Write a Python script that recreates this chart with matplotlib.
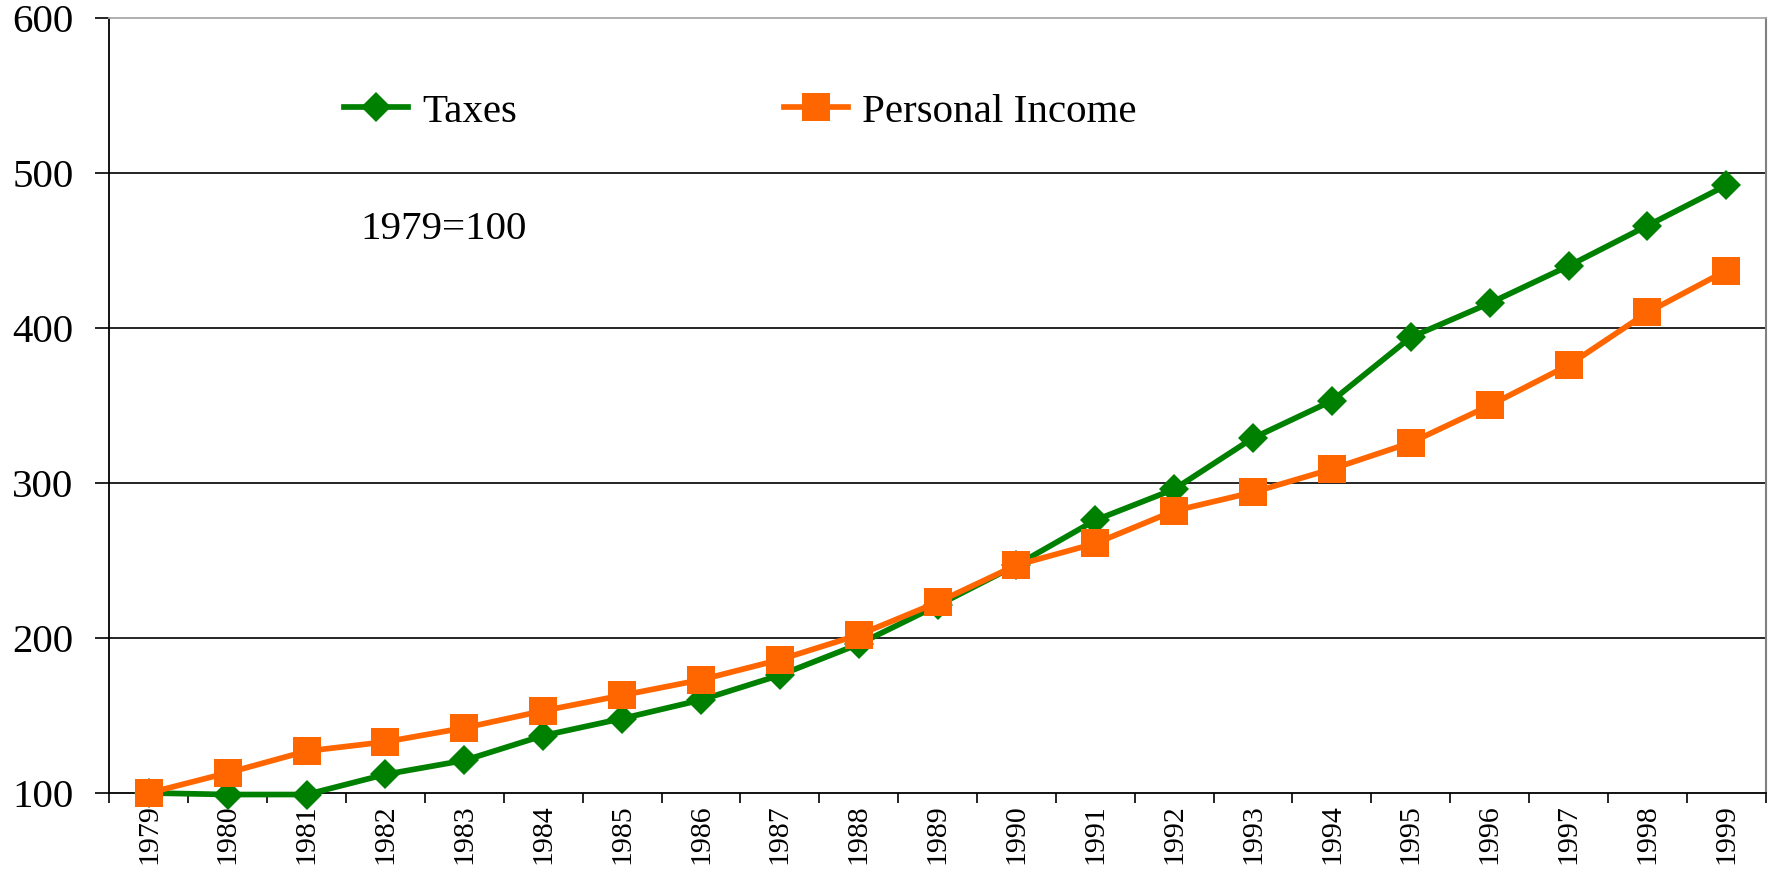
import matplotlib
matplotlib.use("Agg")
import matplotlib.pyplot as plt
import numpy as np

years = [str(y) for y in range(1979, 2000)]
taxes = [100, 99, 99, 112, 121, 137, 148, 160, 176, 196, 221, 247, 276, 296,
         329, 353, 394, 416, 440, 466, 492]
income = [100, 113, 127, 133, 142, 153, 163, 173, 186, 202, 223, 247, 261, 282,
          294, 309, 326, 350, 376, 410, 437]
yticks = [100, 200, 300, 400, 500, 600]

plt.rcParams['font.family'] = ['Liberation Serif', 'DejaVu Serif']

fig = plt.figure(figsize=(17.71, 8.86), dpi=100)
ax = fig.add_axes([0.0618, 0.105, 0.9352, 0.8747])

x = np.arange(len(years)) + 0.5
ax.plot(x, taxes, color='#008000', lw=4.1, marker='D', ms=15, mew=0,
        label='Taxes', clip_on=False, zorder=3)
ax.plot(x, income, color='#FF6600', lw=4.1, marker='s', ms=20, mew=0,
        label='Personal Income', clip_on=False, zorder=4)

ax.set_xlim(0, len(years))
ax.set_ylim(100, 600)
ax.set_yticks(yticks)
ax.set_yticklabels([str(v) for v in yticks], fontsize=29.5)
ax.set_xticks(np.arange(len(years) + 1))
ax.set_xticklabels([])
ax.set_xticks(x, minor=True)
ax.set_xticklabels(years, minor=True, rotation=90, fontsize=21.5)
ax.tick_params(axis='x', which='major', direction='out', length=7.5, width=1.2, color='black')
ax.tick_params(axis='x', which='minor', length=0, pad=8)
ax.tick_params(axis='y', direction='out', length=10, width=1.2, pad=16, color='black')

for v in yticks[1:-1]:
    ax.axhline(v, color='black', lw=1.2, zorder=1)

ax.spines['left'].set_color('black')
ax.spines['bottom'].set_color('black')
ax.spines['left'].set_linewidth(1.3)
ax.spines['bottom'].set_linewidth(1.3)
ax.spines['top'].set_color('#a8a8a8')
ax.spines['right'].set_color('#808080')
ax.spines['top'].set_linewidth(1.3)
ax.spines['right'].set_linewidth(1.5)

ax.legend(loc='center left', bbox_to_anchor=(0.1416, 0.8787), ncol=2,
          frameon=False, fontsize=29.5, handlelength=1.57, handletextpad=0.35,
          columnspacing=6.5, borderpad=0, borderaxespad=0)

ax.text(0.1518, 0.7277, '1979=100', transform=ax.transAxes, fontsize=29.5,
        ha='left', va='center')

fig.savefig('out.png', dpi=100)
